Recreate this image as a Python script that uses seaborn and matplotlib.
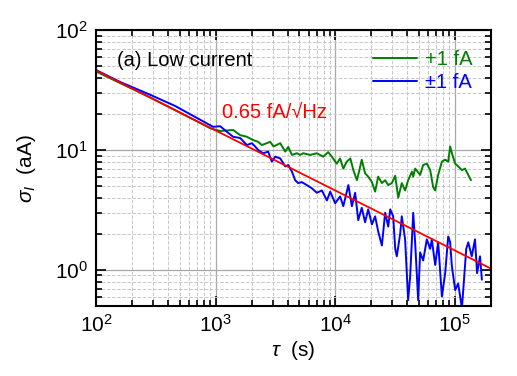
import numpy as np
import pandas as pd
import matplotlib
matplotlib.use('Agg')
import matplotlib.pyplot as plt
import seaborn as sns
from matplotlib.ticker import LogLocator, NullFormatter

# Allan deviation, +1 fA step (green)
tau_pos = [100, 159, 283, 458, 741, 899, 1091, 1400, 1603, 1824, 2060, 2270, 2437, 2860,
           3050, 3470, 3820, 4050, 4350, 4790, 5100, 5400, 6180, 7030, 7940, 8740, 9380,
           10300, 11000, 11700, 12500, 13400, 14200, 15200, 15600, 16700, 17800, 18900,
           20300, 21600, 22900, 24600, 26200, 27800, 29800, 31800, 33700, 36100, 38500,
           40800, 43900, 45000, 46700, 51400, 54500, 58500, 62400, 66100, 68700, 72800,
           78200, 83300, 88300, 91700, 94800, 101000, 107000, 115000, 122000, 130000, 137000]
sigma_pos = [45.1, 36.1, 27.5, 21.5, 16.8, 15.2, 14.4, 14.7, 13.3, 12.9, 12.1, 11.7, 11.0, 11.7,
             10.7, 11.4, 9.7, 10.6, 9.1, 9.4, 9.1, 9.4, 9.1, 9.4, 8.8, 9.6, 8.8,
             7.7, 8.5, 7.0, 8.0, 8.5, 6.8, 5.6, 6.2, 8.3, 6.4, 6.0,
             5.4, 4.5, 6.0, 5.3, 5.6, 5.1, 5.3, 6.1, 4.0, 5.3, 4.6,
             5.6, 6.6, 6.0, 7.0, 6.2, 7.5, 7.7, 6.8, 4.9, 4.6, 6.2,
             8.0, 8.3, 8.0, 10.7, 9.4, 7.7, 7.3, 6.8, 7.0, 6.2, 5.6]

# Allan deviation, +/-1 fA square wave (blue)
tau_pm = [100, 159, 283, 458, 741, 953, 1091, 1241, 1400, 1603, 1824, 2010, 2140, 2270, 2500,
          2750, 2950, 3150, 3470, 3820, 4050, 4350, 4630, 4900, 5260, 5790, 6380, 7030, 7740,
          8530, 9090, 10000, 11000, 11700, 12900, 13800, 14700, 15600, 16700, 17800, 18900,
          20300, 21600, 22900, 24600, 26200, 27800, 28900, 30600, 31800, 32800, 35000, 36100,
          38500, 40800, 42400, 45000, 46700, 49500, 51400, 54500, 58500, 62400, 64400, 68700,
          72800, 78200, 83300, 88300, 91700, 94800, 101000, 107000, 115000, 118000, 125000,
          130000, 139000, 148000, 154000, 163000, 169000]
sigma_pm = [46.4, 36.9, 28.9, 23.3, 17.9, 15.6, 15.8, 14.2, 12.9, 12.6, 11.0, 11.4, 10.7, 10.0, 9.4,
            9.7, 8.0, 8.8, 8.5, 7.3, 7.5, 6.6, 5.6, 5.3, 5.4, 5.1, 4.8, 4.4, 4.6,
            3.8, 4.5, 3.6, 4.1, 3.4, 5.1, 3.4, 4.4, 2.6, 3.3, 2.5, 3.2,
            2.4, 2.8, 2.1, 1.6, 3.0, 2.3, 3.2, 2.8, 1.5, 1.3, 2.0, 2.8,
            1.8, 0.56, 0.88, 3.0, 1.7, 0.56, 1.4, 1.2, 1.8, 1.5, 1.8, 1.1,
            1.7, 0.60, 0.94, 1.9, 1.7, 1.07, 0.68, 0.77, 0.48, 0.68, 1.5,
            1.7, 1.3, 1.8, 0.94, 1.3, 0.83]

# white-noise fit, 0.65 fA/sqrt(Hz)
tau_fit = [100, 200000]
sigma_fit = [46.0, 1.03]

df = pd.concat([
    pd.DataFrame({'tau': tau_pos, 'sigma': sigma_pos, 'series': '+1 fA'}),
    pd.DataFrame({'tau': tau_pm, 'sigma': sigma_pm, 'series': '\u00b11 fA'}),
])

sns.set_style('ticks')
plt.rcParams['font.family'] = ['Liberation Sans', 'DejaVu Sans']
plt.rcParams['text.color'] = 'black'
plt.rcParams['axes.labelcolor'] = 'black'
plt.rcParams['xtick.color'] = 'black'
plt.rcParams['ytick.color'] = 'black'
plt.rcParams['mathtext.fontset'] = 'custom'
plt.rcParams['mathtext.rm'] = 'Liberation Sans'
plt.rcParams['mathtext.it'] = 'Liberation Sans:italic'

fig = plt.figure(figsize=(5.17, 3.76), dpi=100)
ax = fig.add_axes([0.186, 0.186, 0.763, 0.734])

sns.lineplot(data=df, x='tau', y='sigma', hue='series', estimator=None, sort=False,
             palette={'+1 fA': '#007f00', '\u00b11 fA': '#0000ff'}, linewidth=1.4, ax=ax)
ax.plot(tau_fit, sigma_fit, color='#ff0000', lw=1.3)

ax.set_xscale('log')
ax.set_yscale('log')
ax.set_xlim(100, 2e5)
ax.set_ylim(0.5, 100)

ax.xaxis.set_minor_locator(LogLocator(base=10, subs=np.arange(2, 10)))
ax.yaxis.set_minor_locator(LogLocator(base=10, subs=np.arange(2, 10)))
ax.xaxis.set_minor_formatter(NullFormatter())
ax.yaxis.set_minor_formatter(NullFormatter())

ax.grid(True, which='major', color='#a8a8a8', lw=0.9, ls='-')
ax.grid(True, which='minor', color='#c8c8c8', lw=0.7, ls='--')

ax.tick_params(which='both', direction='in', top=True, right=True, width=1.2, labelsize=15, color='black')
ax.tick_params(which='major', length=7, pad=6)
ax.tick_params(which='minor', length=4)
for s in ax.spines.values():
    s.set_linewidth(1.5)
    s.set_color('black')

ax.set_xlabel(r'$\tau$  (s)', fontsize=15, labelpad=2)
ax.set_ylabel(r'$\sigma_I$  (aA)', fontsize=15, labelpad=12)

ax.text(0.053, 0.89, '(a) Low current', transform=ax.transAxes, fontsize=14.5, va='center', ha='left')
ax.text(0.319, 0.703, '0.65 fA/\u221aHz', transform=ax.transAxes, fontsize=14.5,
        va='center', ha='left', color='#ff0000', family=['Liberation Sans', 'DejaVu Sans'])

ax.legend(loc='upper right', bbox_to_anchor=(1.0, 0.995), frameon=False, fontsize=14.5,
          labelcolor='linecolor', handlelength=2.2, handletextpad=0.4, labelspacing=0.2)

fig.savefig('out.png', dpi=100)
